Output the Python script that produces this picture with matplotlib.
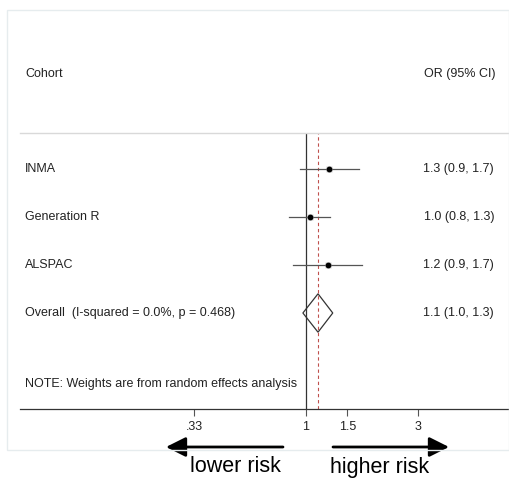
import numpy as np
import matplotlib
matplotlib.use('Agg')
import matplotlib.pyplot as plt
import matplotlib.transforms as mtransforms
from matplotlib.patches import Rectangle, Polygon, FancyArrowPatch

plt.rcParams['font.family'] = ['Liberation Sans', 'DejaVu Sans']

# 数据
cohorts = ['INMA', 'Generation R', 'ALSPAC']
or_est = [1.25, 1.04, 1.24]
ci_low = [0.94, 0.85, 0.88]
ci_high = [1.68, 1.27, 1.74]
or_labels = ['1.3 (0.9, 1.7)', '1.0 (0.8, 1.3)', '1.2 (0.9, 1.7)']

overall_label = 'Overall  (I-squared = 0.0%, p = 0.468)'
overall_est = 1.125
overall_low = 0.97
overall_high = 1.30
overall_text = '1.1 (1.0, 1.3)'

tick_vals = [1 / 3, 1, 1.5, 3]
tick_labels = ['.33', '1', '1.5', '3']

W, H = 509, 478
fig = plt.figure(figsize=(W / 100, H / 100), dpi=100)

# 外框
fig.patches.append(Rectangle((7 / W, 1 - 450 / H), (W - 7) / W, (450 - 10) / H,
                             transform=fig.transFigure, fill=False,
                             edgecolor='#e6ecee', lw=1.0))

ax = fig.add_axes([20 / W, 1 - 409 / H, (W - 20) / W, (409 - 133) / H])
ax.set_xscale('log')
ax.set_xlim(np.exp(-286 / 102), np.exp(203 / 102))
ax.set_ylim(5.0, -0.75)

for s in ['left', 'right']:
    ax.spines[s].set_visible(False)
ax.spines['top'].set_color('#d9d9d9')
ax.spines['top'].set_linewidth(1.0)
ax.spines['bottom'].set_color('#333333')
ax.spines['bottom'].set_linewidth(0.9)
ax.set_yticks([])
ax.set_xticks(tick_vals)
ax.set_xticklabels(tick_labels)
ax.xaxis.set_minor_locator(matplotlib.ticker.NullLocator())
ax.tick_params(axis='x', length=5, width=0.8, color='#555555', labelsize=9,
               labelcolor='#222222', pad=4)

ax.axvline(1, color='#333333', lw=0.9)
ax.axvline(overall_est, color='#c0504d', lw=0.8, ls=(0, (3, 2.5)))

rows = np.arange(len(cohorts))
for r, est, lo, hi in zip(rows, or_est, ci_low, ci_high):
    ax.plot([lo, hi], [r, r], color='#555555', lw=0.9)
    ax.plot(est, r, marker='s', ms=5, color='#cccccc', mec='none')
    ax.plot(est, r, marker='o', ms=3.2, color='black')

r_overall = len(cohorts)
ax.add_patch(Polygon([[overall_low, r_overall], [overall_est, r_overall - 0.4],
                      [overall_high, r_overall], [overall_est, r_overall + 0.4]],
                     closed=True, fill=False, edgecolor='#333333', lw=0.9))

trans = mtransforms.blended_transform_factory(fig.transFigure, ax.transData)
txt_kw = dict(fontsize=9, color='#222222', va='center', transform=trans, clip_on=False)

ax.text(25 / W, -1.98, 'Cohort', ha='left', **txt_kw)
ax.text(495 / W, -1.98, 'OR (95% CI)', ha='right', **txt_kw)
for r, name, lab in zip(rows, cohorts, or_labels):
    ax.text(25 / W, r, name, ha='left', **txt_kw)
    ax.text(494 / W, r, lab, ha='right', **txt_kw)
ax.text(25 / W, r_overall, overall_label, ha='left', **txt_kw)
ax.text(494 / W, r_overall, overall_text, ha='right', **txt_kw)
ax.text(25 / W, 4.48, 'NOTE: Weights are from random effects analysis', ha='left', **txt_kw)

# 风险方向箭头
arrow_kw = dict(arrowstyle='-|>,head_length=1.2,head_width=0.6', lw=2,
                color='black', mutation_scale=10, shrinkA=0, shrinkB=0)
ay = 1 - 447 / H
fig.add_artist(FancyArrowPatch((283 / W, ay), (166 / W, ay),
                               transform=fig.transFigure, **arrow_kw))
fig.add_artist(FancyArrowPatch((333 / W, ay), (449 / W, ay),
                               transform=fig.transFigure, **arrow_kw))
fig.text(235 / W, 1 - 467 / H, 'lower risk', ha='center', va='center', fontsize=15.5, color='black')
fig.text(380 / W, 1 - 467 / H, 'higher risk', ha='center', va='center', fontsize=15.5, color='black')

fig.savefig('out.png', dpi=100)
plt.close(fig)
